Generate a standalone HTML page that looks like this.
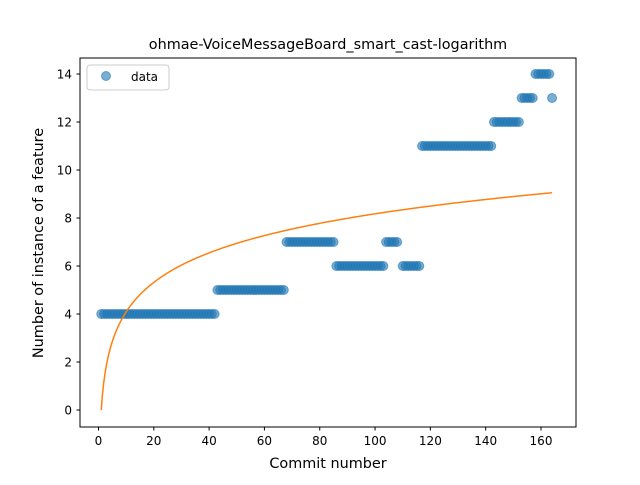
<!DOCTYPE html>
<html><head><meta charset="utf-8"><style>
body{margin:0;background:#fff;}
svg text{font-family:"DejaVu Sans","Liberation Sans",sans-serif;}
</style></head><body>
<svg id="chart" width="640" height="480" xmlns="http://www.w3.org/2000/svg">
<rect width="640" height="480" fill="#fff"/>
<text x="328" y="49" text-anchor="middle" font-size="14.4">ohmae-VoiceMessageBoard_smart_cast-logarithm</text>
<g id="marks"></g>
<rect x="80" y="58" width="496" height="369" fill="none" stroke="#000" stroke-width="1"/>
<g id="axes"></g>
<text x="328" y="468" text-anchor="middle" font-size="14.4">Commit number</text>
<text transform="translate(43,243) rotate(-90)" text-anchor="middle" font-size="14.4">Number of instance of a feature</text>
<g>
<rect x="87" y="65" width="82" height="25" rx="3" fill="#fff" stroke="#ccc"/>
<circle cx="106" cy="76" r="4.5" fill="#1f77b4" fill-opacity="0.6" stroke="#1f77b4" stroke-opacity="0.6"/>
<text x="131" y="81" font-size="12">data</text>
</g>
</svg>
<script>
const segStarts = [1, 43, 68, 86, 104, 110, 117, 143, 153, 158, 164];
const segEnds   = [42, 67, 85, 103, 108, 116, 142, 152, 157, 163, 164];
const segValues = [4, 5, 7, 6, 7, 6, 11, 12, 13, 14, 13];
const fitA = 1.775;
const fitB = 0;
const xTicks = [0, 20, 40, 60, 80, 100, 120, 140, 160];
const yTicks = [0, 2, 4, 6, 8, 10, 12, 14];

const ns = "http://www.w3.org/2000/svg";
const xS = v => 98.5 + v * (541 - 98.5) / 160;
const yS = v => 410 - v * 24;
const marks = document.getElementById('marks');
const axes = document.getElementById('axes');
function mk(tag, attrs, parent){const e=document.createElementNS(ns,tag);for(const k in attrs)e.setAttribute(k,attrs[k]);parent.appendChild(e);return e;}

for(let s=0;s<segStarts.length;s++){
  for(let x=segStarts[s];x<=segEnds[s];x++){
    const c=mk('circle',{cx:xS(x),cy:yS(segValues[s]),r:4.5,fill:'#1f77b4','fill-opacity':0.6,stroke:'#1f77b4','stroke-opacity':0.6},marks);
    
    
  }
}
let d='';
for(let x=1;x<=164;x+=0.25){d+=(d?'L':'M')+xS(x).toFixed(2)+','+yS(fitA*Math.log(x)+fitB).toFixed(2);}
const fl=mk('path',{d:d,fill:'none',stroke:'#ff7f0e','stroke-width':1.5},marks);



xTicks.forEach(t=>{
  const l=mk('line',{x1:xS(t),x2:xS(t),y1:427,y2:430.5,stroke:'#000'},axes);
  
  
  const tx=mk('text',{x:xS(t),y:445,'text-anchor':'middle','font-size':12},axes);
  tx.textContent=t;
  
  
});
yTicks.forEach(t=>{
  const l=mk('line',{x1:76.5,x2:80,y1:yS(t),y2:yS(t),stroke:'#000'},axes);
  
  
  const tx=mk('text',{x:72,y:yS(t)+4.5,'text-anchor':'end','font-size':12},axes);
  tx.textContent=t;
  
  
});
</script>
</body></html>
